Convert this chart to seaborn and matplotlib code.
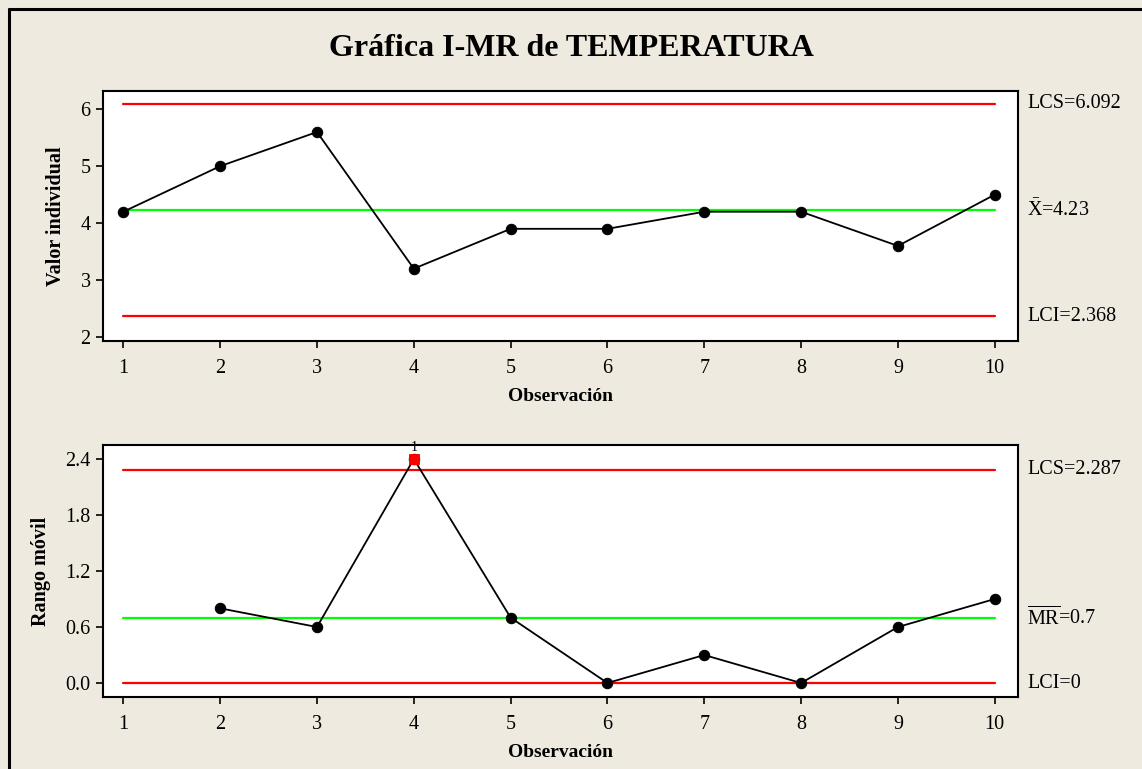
import matplotlib
matplotlib.use("Agg")
import matplotlib.pyplot as plt
from matplotlib.lines import Line2D
import seaborn as sns
import pandas as pd

obs = list(range(1, 11))
temperatura = [4.2, 5.0, 5.6, 3.2, 3.9, 3.9, 4.2, 4.2, 3.6, 4.5]
mr_obs = list(range(2, 11))
rango_movil = [0.8, 0.6, 2.4, 0.7, 0.0, 0.3, 0.0, 0.6, 0.9]
i_limits = {"LCS": 6.092, "X": 4.23, "LCI": 2.368}
mr_limits = {"LCS": 2.287, "MR": 0.7, "LCI": 0.0}
i_yticks = [2, 3, 4, 5, 6]
mr_yticks = [0.0, 0.6, 1.2, 1.8, 2.4]
out_points = [4]  # MR observation exceeding LCS

sns.set_theme(style="white")
plt.rcParams["font.family"] = ["Liberation Serif", "DejaVu Serif"]
plt.rcParams["mathtext.fontset"] = "custom"
plt.rcParams["mathtext.rm"] = "Liberation Serif"
plt.rcParams["mathtext.it"] = "Liberation Serif:italic"
for k in ["text.color", "axes.labelcolor", "xtick.color", "ytick.color"]:
    plt.rcParams[k] = "black"

BG = "#EEEAE0"
TXT = 14.5
fig = plt.figure(figsize=(11.42, 7.69), dpi=100, facecolor=BG)
W, H = 1142, 769
def ax_rect(l, t, r, b):
    return [l / W, 1 - b / H, (r - l) / W, (b - t) / H]

ax1 = fig.add_axes(ax_rect(103, 91, 1018, 341))
ax2 = fig.add_axes(ax_rect(103, 445, 1018, 697))

df_i = pd.DataFrame({"obs": obs, "val": temperatura})
df_mr = pd.DataFrame({"obs": mr_obs, "val": rango_movil})

def style_ax(ax):
    ax.set_facecolor("white")
    for s in ax.spines.values():
        s.set_color("black")
        s.set_linewidth(1.5)
    ax.tick_params(axis="both", which="both", direction="out", length=5, width=1.2,
                   colors="black", labelsize=TXT, left=True, bottom=True)
    ax.tick_params(axis="x", pad=8)
    ax.tick_params(axis="y", pad=4)
    ax.set_xticks(obs)
    ax.set_xlim(0.79, 10.24)
    ax.set_xlabel("Observación", fontsize=14, fontweight="bold", labelpad=7)

# Individual chart
for key, col in [("LCS", "#FF0000"), ("X", "#00FF00"), ("LCI", "#FF0000")]:
    ax1.plot([obs[0], obs[-1]], [i_limits[key]] * 2, color=col, lw=1.6, zorder=1)
sns.lineplot(data=df_i, x="obs", y="val", ax=ax1, color="black", lw=1.3,
             marker="o", markersize=7.5, markeredgecolor="black", zorder=3)
ax1.set_ylim(1.93, 6.32)
ax1.set_yticks(i_yticks)
ax1.set_yticklabels([str(v) for v in i_yticks])
ax1.set_ylabel("Valor individual", fontsize=14.5, fontweight="bold", labelpad=10)
style_ax(ax1)

tx = 1.01
ax1.text(tx, i_limits["LCS"], "LCS=6.092", transform=ax1.get_yaxis_transform(),
         va="center", ha="left", fontsize=TXT)
ax1.text(tx, i_limits["X"], r"$\bar{\mathrm{X}}$=4.23", transform=ax1.get_yaxis_transform(),
         va="center", ha="left", fontsize=TXT)
ax1.text(tx, i_limits["LCI"], "LCI=2.368", transform=ax1.get_yaxis_transform(),
         va="center", ha="left", fontsize=TXT)

# MR chart
for key, col in [("LCS", "#FF0000"), ("MR", "#00FF00"), ("LCI", "#FF0000")]:
    ax2.plot([obs[0], obs[-1]], [mr_limits[key]] * 2, color=col, lw=1.6, zorder=1)
sns.lineplot(data=df_mr, x="obs", y="val", ax=ax2, color="black", lw=1.3,
             marker="o", markersize=7.5, markeredgecolor="black", zorder=3)
df_out = df_mr[df_mr["obs"].isin(out_points)]
sns.scatterplot(data=df_out, x="obs", y="val", ax=ax2, color="#FF0000", marker="s",
                s=60, edgecolor="#FF0000", zorder=4)
for _, r in df_out.iterrows():
    ax2.text(r["obs"], r["val"] + 0.05, "1", ha="center", va="bottom", fontsize=10)
ax2.set_ylim(-0.15, 2.55)
ax2.set_yticks(mr_yticks)
ax2.set_yticklabels([f"{v:.1f}" for v in mr_yticks])
ax2.set_ylabel("Rango móvil", fontsize=14.5, fontweight="bold", labelpad=10)
style_ax(ax2)

ax2.text(tx, mr_limits["LCS"], "LCS=2.287", transform=ax2.get_yaxis_transform(),
         va="center", ha="left", fontsize=TXT)
ax2.text(tx, mr_limits["MR"], r"$\overline{\mathrm{MR}}$=0.7", transform=ax2.get_yaxis_transform(),
         va="center", ha="left", fontsize=TXT)
ax2.text(tx, mr_limits["LCI"], "LCI=0", transform=ax2.get_yaxis_transform(),
         va="center", ha="left", fontsize=TXT)

fig.text(0.5, 1 - 49 / H, "Gráfica I-MR de TEMPERATURA", ha="center", va="center",
         fontsize=23, fontweight="bold")

# figure frame lines (top and left)
fig.add_artist(Line2D([9 / W, 1.0], [1 - 9 / H, 1 - 9 / H], color="black", lw=2.2,
                      transform=fig.transFigure))
fig.add_artist(Line2D([9 / W, 9 / W], [0, 1 - 9 / H], color="black", lw=2.2,
                      transform=fig.transFigure))

fig.savefig("out.png", dpi=100, facecolor=BG)
